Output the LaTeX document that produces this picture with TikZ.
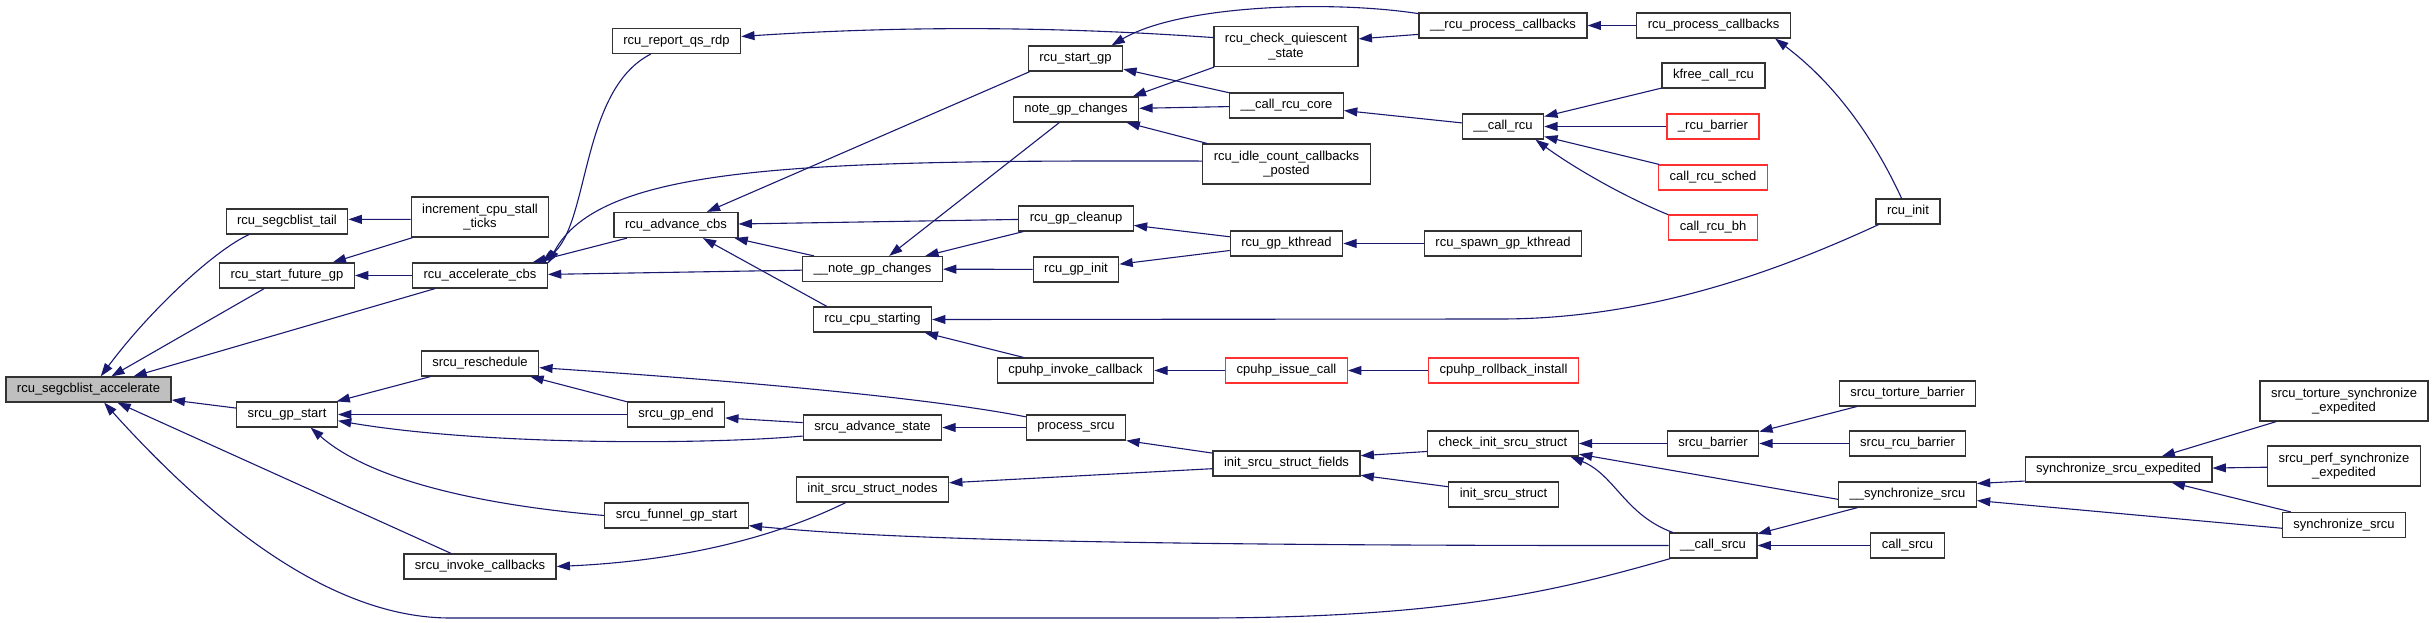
\documentclass[tikz,border=0pt]{standalone}
\usepackage{fontspec}
\setmainfont{Liberation Sans}
\usepackage{tikz}
\usetikzlibrary{arrows.meta}
\definecolor{edgeblue}{HTML}{191970}
\definecolor{boxgray}{HTML}{BFBFBF}
\definecolor{cutred}{HTML}{FF3030}

\begin{document}
\begin{tikzpicture}[
    x=1pt, y=-1pt,
    fnbox/.style={draw=black!80, line width=1.2pt, fill=white, minimum height=25pt, inner xsep=11pt, inner ysep=2pt, align=center, font=\fontsize{13}{14.5}\selectfont},
    fnroot/.style={fnbox, fill=boxgray},
    fncut/.style={fnbox, draw=cutred},
    twoline/.style={minimum height=40pt},
    calls/.style={-{Triangle[length=13.3pt, width=8.9pt]}, line width=1.1pt, edgeblue},
]
\useasboundingbox (0,0) rectangle (2433,623);

% the function itself
\node[fnroot] (acc) at (88.5,389.5) {rcu\_segcblist\_accelerate};

% direct callers
\node[fnbox] (tail) at (287,221.5) {rcu\_segcblist\_tail};
\node[fnbox] (sfgp) at (287,275.5) {rcu\_start\_future\_gp};
\node[fnbox] (sgps) at (287,414.5) {srcu\_gp\_start};

\node[fnbox, twoline] (incr) at (480,217) {increment\_cpu\_stall\\\_ticks};
\node[fnbox] (accb) at (480,275.5) {rcu\_accelerate\_cbs};
\node[fnbox] (resch) at (480,363.5) {srcu\_reschedule};
\node[fnbox] (sinv) at (480,566.5) {srcu\_invoke\_callbacks};

\node[fnbox] (rqs) at (676.5,41) {rcu\_report\_qs\_rdp};
\node[fnbox] (adv) at (676,225) {rcu\_advance\_cbs};
\node[fnbox] (gpend) at (676,414.5) {srcu\_gp\_end};
\node[fnbox] (funnel) at (676.5,515.5) {srcu\_funnel\_gp\_start};

\node[fnbox] (ngc) at (872.5,269) {\_\_note\_gp\_changes};
\node[fnbox] (cpust) at (872.5,319.5) {rcu\_cpu\_starting};
\node[fnbox] (sadv) at (872.5,427.5) {srcu\_advance\_state};
\node[fnbox] (isn) at (872.5,489.5) {init\_srcu\_struct\_nodes};

\node[fnbox] (startgp) at (1075.5,58.5) {rcu\_start\_gp};
\node[fnbox] (notegp) at (1076,109.5) {note\_gp\_changes};
\node[fnbox] (cleanup) at (1076,218.5) {rcu\_gp\_cleanup};
\node[fnbox] (gpinit) at (1076,269.5) {rcu\_gp\_init};
\node[fnbox] (cpinv) at (1075.5,370.5) {cpuhp\_invoke\_callback};
\node[fnbox] (psrcu) at (1076,427.5) {process\_srcu};

\node[fnbox, twoline] (cqs) at (1286,46.5) {rcu\_check\_quiescent\\\_state};
\node[fnbox] (crcore) at (1286.5,105.5) {\_\_call\_rcu\_core};
\node[fnbox, twoline] (idle) at (1286.5,164) {rcu\_idle\_count\_callbacks\\\_posted};
\node[fnbox] (kthr) at (1286.5,243.5) {rcu\_gp\_kthread};
\node[fncut] (issue) at (1286.5,370.5) {cpuhp\_issue\_call};
\node[fnbox] (isf) at (1286.5,463.5) {init\_srcu\_struct\_fields};

\node[fnbox] (rpc2) at (1503,25.5) {\_\_rcu\_process\_callbacks};
\node[fnbox] (crcu) at (1503,126.5) {\_\_call\_rcu};
\node[fnbox] (spawn) at (1503,243.5) {rcu\_spawn\_gp\_kthread};
\node[fncut] (rollb) at (1503.5,370.5) {cpuhp\_rollback\_install};
\node[fnbox] (cisc) at (1503,443.5) {check\_init\_srcu\_struct};
\node[fnbox] (isi) at (1503.5,494.5) {init\_srcu\_struct};

\node[fnbox] (rpc) at (1713.5,25.5) {rcu\_process\_callbacks};
\node[fnbox] (kfree) at (1713.5,75.5) {kfree\_call\_rcu};
\node[fncut] (rbar) at (1713,126.5) {\_rcu\_barrier};
\node[fncut] (sched) at (1713,177.5) {call\_rcu\_sched};
\node[fncut] (bh) at (1713,227.5) {call\_rcu\_bh};
\node[fnbox] (sbar) at (1713,443.5) {srcu\_barrier};
\node[fnbox] (csrcu) at (1713,545.5) {\_\_call\_srcu};

\node[fnbox] (init) at (1908,211.5) {rcu\_init};
\node[fnbox] (stb) at (1907.5,393.5) {srcu\_torture\_barrier};
\node[fnbox] (srb) at (1907.5,443.5) {srcu\_rcu\_barrier};
\node[fnbox] (syncs2) at (1907.5,494.5) {\_\_synchronize\_srcu};
\node[fnbox] (callsrcu) at (1907.5,545.5) {call\_srcu};

\node[fnbox] (sse) at (2118.5,469.5) {synchronize\_srcu\_expedited};
\node[fnbox, twoline] (stse) at (2344,401) {srcu\_torture\_synchronize\\\_expedited};
\node[fnbox, twoline] (spse) at (2344,466) {srcu\_perf\_synchronize\\\_expedited};
\node[fnbox] (syncs) at (2344,525) {synchronize\_srcu};

% calls into rcu_segcblist_accelerate
\draw[calls] (tail.199) .. controls (215,250) and (150,310) .. (acc.47);
\draw[calls] (sfgp) -- (acc);
\draw[calls] (accb) -- (acc);
\draw[calls] (sgps) -- (acc);
\draw[calls] (sinv) -- (acc);
\draw[calls] (csrcu.197) .. controls (1560,590) and (1450,618) .. (1200,618) -- (450,618) .. controls (330,618) and (210,520) .. (acc.320);

\draw[calls] (incr.182) -- (tail.2);
\draw[calls] (incr.197) -- (sfgp.16);
\draw[calls] (accb) -- (sfgp);
\draw[calls] (resch) -- (sgps);
\draw[calls] (gpend) -- (sgps);
\draw[calls] (sadv.187) .. controls (700,445) and (480,445) .. (sgps.353);
\draw[calls] (funnel.west) .. controls (480,505) and (370,480) .. (sgps.331);

\draw[calls] (rqs.207) .. controls (580,90) and (590,225) .. (accb.12);
\draw[calls] (adv.195) -- (accb.14);
\draw[calls] (idle.178) .. controls (800,160) and (600,165) .. (accb.10);
\draw[calls] (ngc) -- (accb);
\draw[calls] (gpend) -- (resch);
\draw[calls] (psrcu.168) .. controls (950,402) and (800,385) .. (resch.356);
\draw[calls] (isn.206) .. controls (790,530) and (700,560) .. (sinv.east);

\draw[calls] (cqs.173) .. controls (1050,26) and (900,26) .. (rqs.4);
\draw[calls] (startgp.196) -- (adv.23);
\draw[calls] (cleanup) -- (adv);
\draw[calls] (ngc) -- (adv);
\draw[calls] (cpust.164) -- (adv.334);
\draw[calls] (sadv.176) -- (gpend.356);
\draw[calls] (csrcu.west) .. controls (1000,546) and (850,535) .. (funnel.352);

\draw[calls] (notegp) -- (ngc);
\draw[calls] (cleanup) -- (ngc);
\draw[calls] (gpinit) -- (ngc);
\draw[calls] (init.204) .. controls (1780,270) and (1650,319) .. (1500,319) -- (cpust.east);
\draw[calls] (cpinv) -- (cpust);
\draw[calls] (psrcu) -- (sadv);
\draw[calls] (isf.184) -- (isn.5);

\draw[calls] (rpc2.172) .. controls (1330,0) and (1180,5) .. (startgp.20);
\draw[calls] (crcore) -- (startgp);
\draw[calls] (cqs.196) -- (notegp.13);
\draw[calls] (crcore) -- (notegp);
\draw[calls] (idle) -- (notegp);
\draw[calls] (kthr) -- (cleanup);
\draw[calls] (kthr) -- (gpinit);
\draw[calls] (issue) -- (cpinv);
\draw[calls] (isf.172) -- (psrcu.south east);

\draw[calls] (rpc2.186) -- (cqs.6);
\draw[calls] (crcu.175) -- (crcore.355);
\draw[calls] (spawn) -- (kthr);
\draw[calls] (rollb) -- (issue);
\draw[calls] (cisc.186) -- (isf.6);
\draw[calls] (isi.172) -- (isf.351);

\draw[calls] (rpc) -- (rpc2);
\draw[calls] (kfree) -- (crcu);
\draw[calls] (rbar) -- (crcu);
\draw[calls] (sched) -- (crcu);
\draw[calls] (bh.164) .. controls (1620,195) and (1570,165) .. (crcu.338);
\draw[calls] (sbar) -- (cisc);
\draw[calls] (syncs2.184) -- (cisc.352);
\draw[calls] (csrcu.162) .. controls (1625,515) and (1615,475) .. (cisc.349);

\draw[calls] (init.116) .. controls (1870,130) and (1830,80) .. (rpc.348);
\draw[calls] (stb) -- (sbar);
\draw[calls] (srb) -- (sbar);
\draw[calls] (syncs2) -- (csrcu);
\draw[calls] (callsrcu) -- (csrcu);

\draw[calls] (sse.187) -- (syncs2.9);
\draw[calls] (syncs.183) -- (syncs2.355);
\draw[calls] (stse) -- (sse);
\draw[calls] (spse) -- (sse);
\draw[calls] (syncs) -- (sse);
\end{tikzpicture}
\end{document}
